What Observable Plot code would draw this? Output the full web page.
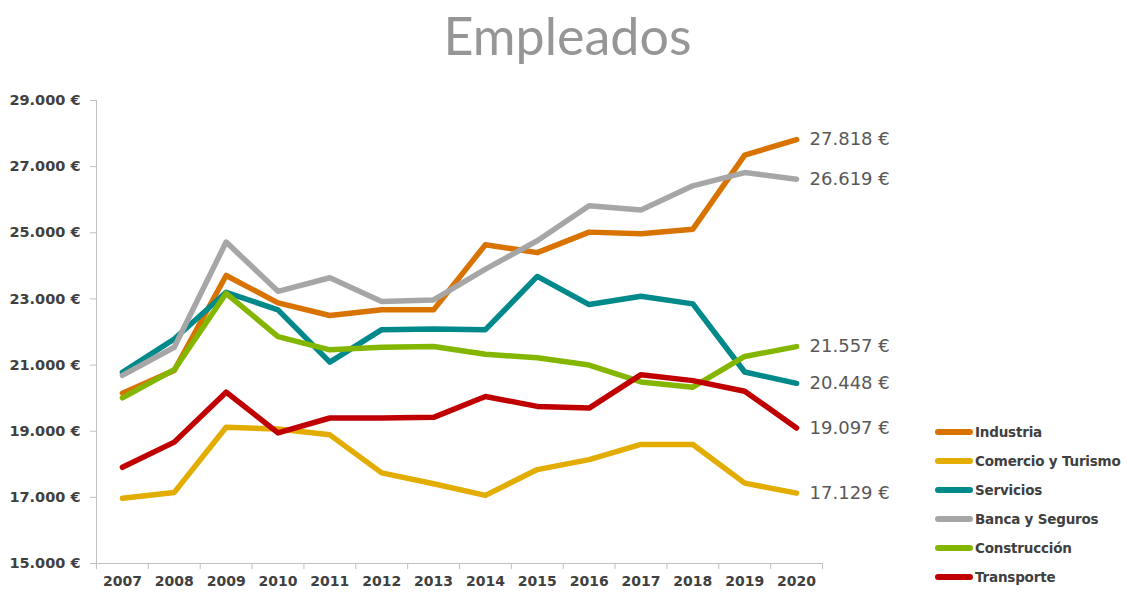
<!DOCTYPE html>
<html>
<head>
<meta charset="utf-8">
<script src="https://cdn.jsdelivr.net/npm/d3@7"></script>
<script src="https://cdn.jsdelivr.net/npm/@observablehq/plot@0.6"></script>
<style>
  body { margin: 0; background: #fff; }
  #wrap { position: relative; width: 1127px; height: 595px; overflow: hidden; background: #fff; }
  #title { position: absolute; left: 4px; top: 9px; width: 1127px; text-align: center;
           font-family: Lato, "Open Sans", sans-serif; font-size: 52px; line-height: 1; color: #969696; }
  #chart { position: absolute; left: 0; top: 0; }
  #legend { position: absolute; left: 935px; top: 417px; font-family: "DejaVu Sans", sans-serif;
            font-size: 13.5px; font-weight: bold; color: #404040; letter-spacing: -0.2px; }
  .row { height: 29px; display: flex; align-items: center; white-space: nowrap; }
  .sw { display: inline-block; width: 38px; height: 6px; border-radius: 3px; margin-right: 2px; }
</style>
</head>
<body>
<div id="wrap">
  <div id="chart"></div>
  <div id="title">Empleados</div>
  <div id="legend"></div>
</div>
<script>
const years = [2007, 2008, 2009, 2010, 2011, 2012, 2013, 2014, 2015, 2016, 2017, 2018, 2019, 2020];

const seriesNames = ["Industria", "Comercio y Turismo", "Servicios", "Banca y Seguros", "Construcción", "Transporte"];
const seriesColors = ["#D87300", "#E3AC00", "#00898A", "#A6A6A6", "#84B600", "#C00000"];

const industria    = [20150, 20840, 23710, 22880, 22500, 22670, 22670, 24640, 24400, 25020, 24970, 25110, 27350, 27818];
const comercio     = [16970, 17150, 19120, 19070, 18890, 17740, 17410, 17060, 17840, 18140, 18600, 18600, 17430, 17129];
const servicios    = [20780, 21790, 23200, 22670, 21090, 22070, 22090, 22070, 23680, 22830, 23080, 22850, 20790, 20448];
const banca        = [20690, 21540, 24720, 23230, 23640, 22920, 22970, 23900, 24760, 25820, 25690, 26420, 26820, 26619];
const construccion = [20010, 20860, 23170, 21860, 21460, 21540, 21560, 21330, 21220, 21000, 20490, 20330, 21260, 21557];
const transporte   = [17910, 18670, 20180, 18950, 19400, 19400, 19420, 20050, 19750, 19700, 20710, 20530, 20210, 19097];

const seriesValues = [industria, comercio, servicios, banca, construccion, transporte];

const yTicks = [15000, 17000, 19000, 21000, 23000, 25000, 27000, 29000];

const data = seriesNames.flatMap((name, k) =>
  seriesValues[k].map((v, i) => ({serie: name, year: years[i], value: v})));
const lastPoints = seriesNames.map((name, k) => ({
  serie: name, year: years[years.length - 1], value: seriesValues[k][seriesValues[k].length - 1]
}));
const boundaries = years.map(y => y - 0.5).concat([years[years.length - 1] + 0.5]);

const fmt = d => d3.format(",")(d).replace(/,/g, ".") + " €";

const chart = Plot.plot({
  width: 1127,
  height: 595,
  marginLeft: 96,
  marginRight: 305,
  marginTop: 100,
  marginBottom: 32,
  style: {background: "transparent", overflow: "visible"},
  x: {type: "linear", domain: [boundaries[0], boundaries[boundaries.length - 1]]},
  y: {domain: [yTicks[0], yTicks[yTicks.length - 1]]},
  color: {domain: seriesNames, range: seriesColors},
  marks: [
    Plot.ruleY([yTicks[0]], {stroke: "#bfbfbf", strokeWidth: 1}),
    Plot.ruleX([boundaries[0]], {stroke: "#bfbfbf", strokeWidth: 1}),
    Plot.axisY({ticks: yTicks, tickSize: 6, tickPadding: 10, tickFormat: fmt, label: null,
      stroke: "#bfbfbf", fill: "#404040", fontSize: 14.5, fontWeight: "bold", fontFamily: "DejaVu Sans"}),
    Plot.axisX({ticks: boundaries, tickSize: 6, tickFormat: () => "", label: null, stroke: "#bfbfbf"}),
    Plot.axisX({ticks: years, tickSize: 0, tickPadding: 13, tickFormat: d => String(d), label: null,
      fill: "#404040", fontSize: 14, fontWeight: "bold", fontFamily: "DejaVu Sans"}),
    Plot.line(data, {x: "year", y: "value", z: "serie", stroke: "serie", strokeWidth: 5.5,
      strokeLinejoin: "round", strokeLinecap: "round"}),
    Plot.text(lastPoints, {x: "year", y: "value", text: d => fmt(d.value), dx: 13, textAnchor: "start",
      fill: "#595959", fontSize: 18, fontFamily: "DejaVu Sans"})
  ]
});
document.getElementById("chart").appendChild(chart);

const legend = document.getElementById("legend");
seriesNames.forEach((name, k) => {
  const row = document.createElement("div");
  row.className = "row";
  const sw = document.createElement("span");
  sw.className = "sw";
  sw.style.background = seriesColors[k];
  row.appendChild(sw);
  row.appendChild(document.createTextNode(name));
  legend.appendChild(row);
});
</script>
</body>
</html>
